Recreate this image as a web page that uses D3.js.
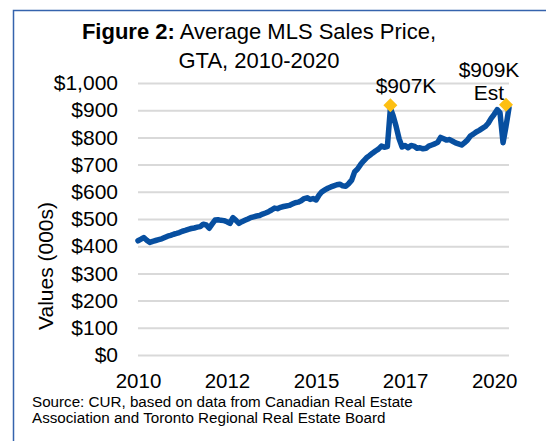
<!DOCTYPE html>
<html>
<head>
<meta charset="utf-8">
<script src="https://d3js.org/d3.v7.min.js"></script>
<style>
  body { margin: 0; background: #fff; }
  svg text { font-family: "Liberation Sans", Arial, sans-serif; fill: #000; }
</style>
</head>
<body>
<div id="chart"></div>
<script>
// chart size
var svgWidth = 546;
var svgHeight = 441;

// plot area (pixels)
var plot = { left: 138, right: 509, top: 83, bottom: 355 };

// average MLS sales price, GTA, thousands of dollars, monthly from Jan 2010
var startMonth = new Date(2010, 0, 1);
var avgPrice = [
  420, 426, 432, 422, 414, 418, 421, 424, 427, 432, 437, 440,   // 2010
  444, 447, 450, 455, 458, 462, 465, 467, 470, 472, 481, 478,   // 2011
  466, 482, 496, 497, 495, 494, 490, 484, 505, 495, 484, 490,   // 2012
  495, 500, 505, 508, 511, 513, 518, 522, 527, 533, 540, 538,   // 2013
  543, 546, 548, 550, 555, 560, 562, 567, 575, 578, 572, 575,   // 2014
  570, 588, 600, 607, 613, 618, 622, 626, 628, 622, 620, 630,   // 2015
  643, 674, 684, 700, 713, 725, 733, 742, 750, 757, 768, 764,   // 2016
  766, 907, 880, 840, 795, 765, 770, 762, 770, 768, 760, 762,   // 2017
  758, 760, 768, 772, 776, 782, 800, 795, 790, 792, 786, 780,   // 2018
  776, 772, 780, 790, 805, 812, 820, 826, 833, 840, 852, 870,   // 2019
  885, 902, 890, 780, 840, 909                                  // 2020
];

// y axis ticks
var yTicks = [0, 100, 200, 300, 400, 500, 600, 700, 800, 900, 1000];

// x axis labels (every 30 months, as in the original)
var xTickMonths = [0, 30, 60, 90, 120];
var xTickLabels = ["2010", "2012", "2015", "2017", "2020"];

// highlighted points
var highlightIdx = [85, 125];
var highlightLabels = [["$907K"], ["$909K", "Est"]];

var data = avgPrice.map(function(v, i) {
  return { date: d3.timeMonth.offset(startMonth, i), value: v };
});

var svg = d3.select("#chart")
  .append("svg")
  .attr("width", svgWidth)
  .attr("height", svgHeight);

// blue frame, runs off the right and bottom edges
svg.append("rect")
  .attr("x", 13.5)
  .attr("y", 10.5)
  .attr("width", 700)
  .attr("height", 600)
  .attr("fill", "#fff")
  .attr("stroke", "#3563ad")
  .attr("stroke-width", 1.5);

// scales
var xScale = d3.scaleTime()
  .domain([data[0].date, data[data.length - 1].date])
  .range([plot.left, plot.right]);

var yScale = d3.scaleLinear()
  .domain([0, 1000])
  .range([plot.bottom, plot.top]);

// gridlines
svg.append("g")
  .attr("transform", `translate(${plot.left}, 0)`)
  .call(d3.axisLeft(yScale).tickValues(yTicks).tickSize(-(plot.right - plot.left)).tickFormat(""))
  .call(g => g.select(".domain").remove())
  .call(g => g.selectAll("line").attr("stroke", "#d9d9d9").attr("stroke-width", 2));

// y axis labels
var fmt = d3.format(",");
svg.append("g")
  .attr("transform", `translate(${plot.left}, 0)`)
  .call(d3.axisLeft(yScale).tickValues(yTicks).tickSize(0).tickPadding(20)
    .tickFormat(d => "$" + fmt(d)))
  .call(g => g.select(".domain").remove())
  .call(g => g.selectAll("text").attr("font-size", "21px").attr("font-family", null));

// x axis labels
var xTickDates = xTickMonths.map(m => d3.timeMonth.offset(startMonth, m));
svg.append("g")
  .attr("transform", `translate(0, ${plot.bottom})`)
  .call(d3.axisBottom(xScale).tickValues(xTickDates).tickSize(0).tickPadding(18)
    .tickFormat((d, i) => xTickLabels[i]))
  .call(g => g.select(".domain").remove())
  .call(g => g.selectAll("text").attr("font-size", "20.5px").attr("font-family", null));

// the line
var line = d3.line()
  .x(d => xScale(d.date))
  .y(d => yScale(d.value));

svg.append("path")
  .datum(data)
  .attr("d", line)
  .attr("fill", "none")
  .attr("stroke", "#074fa0")
  .attr("stroke-width", 5.5)
  .attr("stroke-linejoin", "round")
  .attr("stroke-linecap", "round");

// diamond markers
var diamond = "M0,-7L7,0L0,7L-7,0Z";
svg.selectAll(".marker")
  .data(highlightIdx)
  .enter()
  .append("path")
  .attr("class", "marker")
  .attr("d", diamond)
  .attr("fill", "#fdbf12")
  .attr("transform", i => `translate(${xScale(data[i].date) - (i === 125 ? 3 : 0)}, ${yScale(data[i].value) - 3})`);

// marker labels
var labelPos = [{ x: 406, y: 93 }, { x: 489, y: 77 }];
highlightLabels.forEach(function(lines, k) {
  var t = svg.append("text")
    .attr("x", labelPos[k].x)
    .attr("y", labelPos[k].y)
    .attr("text-anchor", "middle")
    .attr("font-size", "21px");
  lines.forEach(function(s, j) {
    t.append("tspan")
      .attr("x", labelPos[k].x)
      .attr("dy", j === 0 ? 0 : 23)
      .text(s);
  });
});

// title
var title = svg.append("text")
  .attr("x", 259)
  .attr("y", 38.5)
  .attr("text-anchor", "middle")
  .attr("font-size", "22px");
title.append("tspan").attr("font-weight", "bold").text("Figure 2:");
title.append("tspan").text(" Average MLS Sales Price,");

svg.append("text")
  .attr("x", 259)
  .attr("y", 68)
  .attr("text-anchor", "middle")
  .attr("font-size", "22px")
  .text("GTA, 2010-2020");

// y axis title
svg.append("text")
  .attr("transform", "translate(53, 266) rotate(-90)")
  .attr("text-anchor", "middle")
  .attr("font-size", "21px")
  .text("Values (000s)");

// source note
svg.append("text")
  .attr("x", 32)
  .attr("y", 407)
  .attr("font-size", "15.2px")
  .text("Source: CUR, based on data from Canadian Real Estate");

svg.append("text")
  .attr("x", 32)
  .attr("y", 423)
  .attr("font-size", "15.2px")
  .text("Association and Toronto Regional Real Estate Board");
</script>
</body>
</html>
